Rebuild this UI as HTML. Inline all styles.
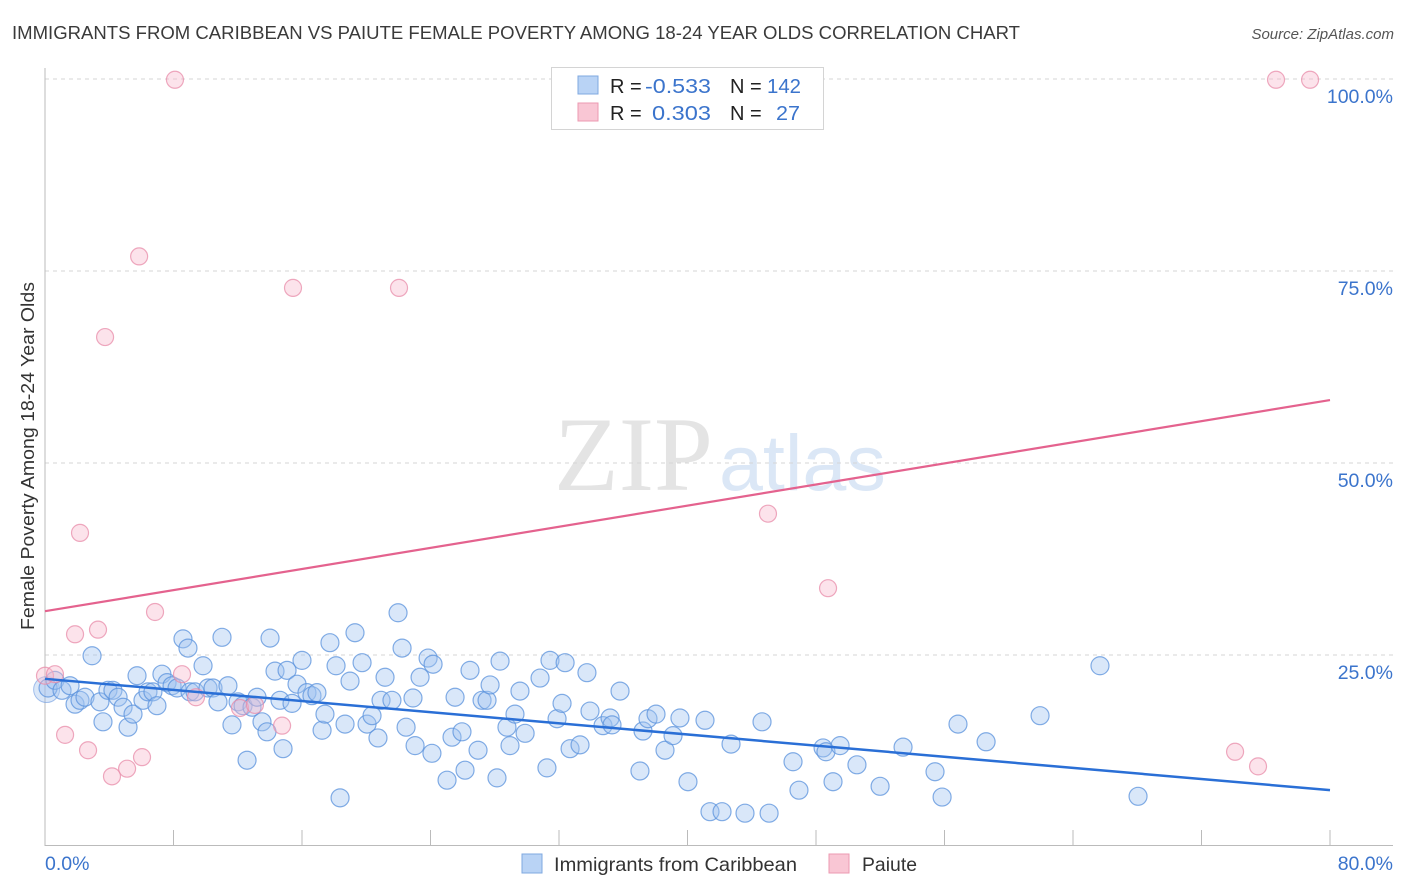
<!DOCTYPE html>
<html><head><meta charset="utf-8"><style>
html,body{margin:0;padding:0;background:#fff;}
body{width:1406px;height:892px;overflow:hidden;position:relative;font-family:"Liberation Sans",sans-serif;}
svg{position:absolute;left:0;top:0;}
</style></head><body>
<svg id="chart" width="1406" height="892">
<text x="12" y="39" font-size="18" fill="#3a3a3a" textLength="1008" lengthAdjust="spacingAndGlyphs">IMMIGRANTS FROM CARIBBEAN VS PAIUTE FEMALE POVERTY AMONG 18-24 YEAR OLDS CORRELATION CHART</text>
<text x="1394" y="39" font-size="15" fill="#555" font-style="italic" text-anchor="end">Source: ZipAtlas.com</text>
<text transform="translate(34,456) rotate(-90)" font-size="18" fill="#333" text-anchor="middle" textLength="348" lengthAdjust="spacingAndGlyphs">Female Poverty Among 18-24 Year Olds</text>
<g>
<text x="554" y="490" font-family="Liberation Serif,serif" font-size="106" fill="#e4e4e4">ZIP</text>
<text x="719" y="490" font-family="Liberation Sans,sans-serif" font-size="79" fill="#dbe7f6">atlas</text>
</g>
<g id="grid"></g>
<g id="axes"></g>
<g id="trends"></g>
<g id="pts"></g>
<g>
<rect x="551.5" y="67.5" width="272" height="62" fill="#fff" stroke="#d4d4d4"/>
<rect x="578" y="76" width="20" height="18" fill="#b9d3f5" stroke="#7fa8e0"/>
<rect x="578" y="103" width="20" height="18" fill="#f9c6d4" stroke="#ec9ab2"/>
<text x="610" y="93" font-size="20" fill="#222">R = </text><text x="645" y="93" font-size="20" fill="#3b74cc" textLength="66" lengthAdjust="spacingAndGlyphs">-0.533</text>
<text x="730" y="93" font-size="20" fill="#222">N = </text><text x="767" y="93" font-size="20" fill="#3b74cc" textLength="34" lengthAdjust="spacingAndGlyphs">142</text>
<text x="610" y="120" font-size="20" fill="#222">R = </text><text x="652" y="120" font-size="20" fill="#3b74cc" textLength="59" lengthAdjust="spacingAndGlyphs">0.303</text>
<text x="730" y="120" font-size="20" fill="#222">N = </text><text x="776" y="120" font-size="20" fill="#3b74cc" textLength="24" lengthAdjust="spacingAndGlyphs">27</text>
</g>
<g>
<rect x="522" y="854" width="20" height="19" fill="#b9d3f5" stroke="#7fa8e0"/>
<text x="554" y="871" font-size="19.5" fill="#333" textLength="243" lengthAdjust="spacingAndGlyphs">Immigrants from Caribbean</text>
<rect x="829" y="854" width="20" height="19" fill="#f9c6d4" stroke="#ec9ab2"/>
<text x="862" y="871" font-size="19.5" fill="#333" textLength="55" lengthAdjust="spacingAndGlyphs">Paiute</text>
</g>
</svg>
<script>
const yTicks=[25,50,75,100];
const yTickLabels=["25.0%","50.0%","75.0%","100.0%"];
const xTickCount=10;
const xLabels=["0.0%","80.0%"];
const blueX=[0.19,0.62,1.06,1.56,1.87,2.18,2.93,2.49,3.42,3.61,3.92,4.23,4.55,4.86,5.17,5.48,5.73,6.10,6.41,6.72,6.97,7.28,7.60,7.91,8.22,8.59,8.90,9.03,9.34,9.84,10.15,10.46,10.77,11.02,11.39,11.64,12.02,12.33,12.58,12.89,13.20,13.51,13.82,14.01,14.32,14.63,14.82,15.07,15.38,15.69,16.00,16.31,16.62,16.93,17.25,17.43,17.74,18.12,18.37,18.68,18.99,19.30,19.74,20.05,20.36,20.73,21.17,20.92,21.60,21.98,22.23,22.48,22.91,23.04,23.35,23.85,24.16,24.09,25.03,25.34,25.53,25.96,26.15,26.46,26.96,27.21,27.52,27.71,28.14,28.33,28.76,28.95,29.26,29.57,29.89,30.82,31.25,31.44,31.88,32.38,32.19,32.69,33.31,33.74,33.93,34.74,35.18,35.30,35.80,37.04,37.23,37.54,38.04,38.60,39.10,39.53,40.03,41.40,42.15,43.58,45.08,41.09,42.71,44.64,46.57,46.94,48.44,48.62,49.06,49.50,50.55,51.99,53.42,55.41,55.85,56.84,58.59,61.95,65.68,68.05];
const blueY=[20.7,21.7,20.4,21.0,18.6,19.1,24.9,19.5,18.9,16.3,20.4,20.4,19.5,18.2,15.6,17.3,22.3,19.1,20.2,20.2,18.4,22.5,21.4,21.0,20.7,27.1,25.9,20.2,20.2,23.6,20.7,20.7,18.9,27.3,21.0,15.9,18.9,18.4,11.3,18.2,19.5,16.3,15.0,27.2,22.9,19.1,12.8,23.0,18.7,21.2,24.3,20.1,19.7,20.1,15.2,17.3,26.6,23.6,6.4,16.0,21.6,27.9,24.0,16.0,17.1,14.2,22.1,19.1,19.1,30.5,25.9,15.6,19.4,13.2,22.1,24.6,23.8,12.2,8.7,14.3,19.5,15.0,10.0,23.0,12.6,19.1,19.1,21.1,9.0,24.2,15.6,13.2,17.3,20.3,14.8,22.0,10.3,24.3,16.7,24.0,18.7,12.8,13.3,22.7,17.7,15.8,16.8,15.9,20.3,9.9,15.1,16.7,17.3,12.6,14.5,16.8,8.5,4.6,4.6,4.4,4.4,16.5,13.4,16.3,11.1,7.4,12.9,12.4,8.5,13.2,10.7,7.9,13.0,9.8,6.5,16.0,13.7,17.1,23.6,6.6];
const pinkX=[0,0.62,1.25,1.87,2.18,2.68,3.30,3.74,4.17,5.11,5.86,6.04,6.85,8.09,8.53,9.40,12.14,13.07,14.76,15.44,22.04,45.01,48.75,74.09,75.52,76.64,78.76];
const pinkY=[22.3,22.5,14.6,27.7,40.9,12.6,28.3,66.4,9.2,10.2,76.9,11.7,30.6,99.9,22.5,19.5,18.1,18.5,15.8,72.8,72.8,43.4,33.7,12.4,10.5,99.9,99.9];
const blueTrend=[21.9,7.4];
const pinkTrend=[30.7,58.2];
const X0=45,X1=1330,Y0=847,YPX=7.68;
function sx(v){return X0+(v/80)*(X1-X0);}
function sy(v){return Y0-v*YPX;}
const NS="http://www.w3.org/2000/svg";
function mk(tag,attrs,parent){const e=document.createElementNS(NS,tag);for(const k in attrs)e.setAttribute(k,attrs[k]);parent.appendChild(e);return e;}
const grid=document.getElementById('grid'),axes=document.getElementById('axes'),tr=document.getElementById('trends'),pts=document.getElementById('pts');
yTicks.forEach((t,i)=>{
  const l=mk('line',{x1:45,x2:1393,y1:sy(t),y2:sy(t),stroke:'#d6d6d6','stroke-dasharray':'4,4'},grid);
  
  
  const tx=mk('text',{x:1393,y:sy(t)+24,'font-size':19.5,fill:'#3b74cc','text-anchor':'end'},axes);
  tx.textContent=yTickLabels[i];
  
  
});
const ya=mk('line',{x1:45,x2:45,y1:68,y2:846,stroke:'#bbb'},axes);


const xa=mk('line',{x1:45,x2:1393,y1:845.5,y2:845.5,stroke:'#bbb'},axes);


for(let i=0;i<=xTickCount;i++){
  const v=i*80/xTickCount;
  const t=mk('line',{x1:sx(v),x2:sx(v),y1:830,y2:846,stroke:'#bbb'},axes);
  
  
}
const xl0=mk('text',{x:45,y:870,'font-size':19.5,fill:'#3b74cc'},axes);xl0.textContent=xLabels[0];


const xl1=mk('text',{x:1393,y:870,'font-size':19.5,fill:'#3b74cc','text-anchor':'end'},axes);xl1.textContent=xLabels[1];


const big=mk('circle',{cx:sx(0.1),cy:sy(20.5),r:13,fill:'rgba(150,185,235,0.35)',stroke:'rgba(110,155,225,0.6)'},pts);


blueX.forEach((x,i)=>{
  const c=mk('circle',{cx:sx(x),cy:sy(blueY[i]),r:9,fill:'rgba(160,195,240,0.4)',stroke:'rgba(90,145,220,0.75)','stroke-width':1.2},pts);
  
  
});
pinkX.forEach((x,i)=>{
  const c=mk('circle',{cx:sx(x),cy:sy(pinkY[i]),r:8.5,fill:'rgba(248,185,205,0.4)',stroke:'rgba(232,140,170,0.75)','stroke-width':1.2},pts);
  
  
});
const bl=mk('line',{x1:sx(0),y1:sy(blueTrend[0]),x2:sx(80),y2:sy(blueTrend[1]),stroke:'#2a6fd6','stroke-width':2.5},tr);


const pl=mk('line',{x1:sx(0),y1:sy(pinkTrend[0]),x2:sx(80),y2:sy(pinkTrend[1]),stroke:'#e4628e','stroke-width':2.2},tr);


pts.parentNode.appendChild(tr);
</script>
</body></html>
